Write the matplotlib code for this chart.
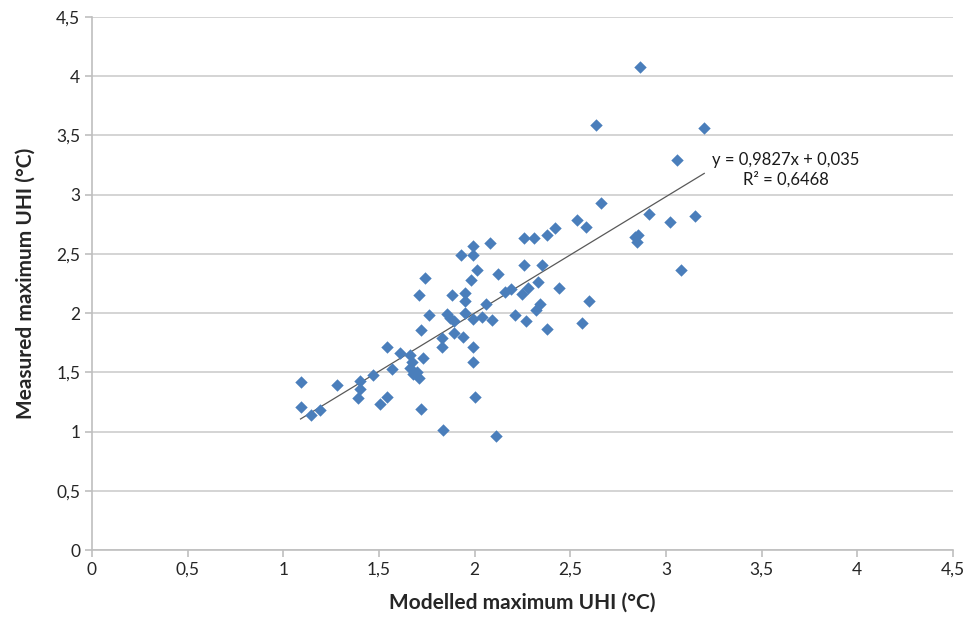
import matplotlib.pyplot as plt
from matplotlib.ticker import FuncFormatter, MultipleLocator
import numpy as np

# modelled vs measured maximum UHI (°C)
modelled = [1.09, 1.09, 1.145, 1.19, 1.28, 1.40, 1.40, 1.39, 1.47, 1.505,
            1.54, 1.54, 1.57, 1.61, 1.66, 1.67, 1.73, 1.66, 1.68, 1.70,
            1.71, 1.72, 1.72, 1.93, 1.99, 1.99, 2.08, 2.26, 2.26, 2.01,
            1.98, 2.12, 1.74, 1.71, 1.76, 1.88, 1.95, 1.95, 2.06, 1.855,
            1.87, 1.89, 1.95, 1.99, 2.04, 2.09, 2.16, 2.19, 2.25, 2.27,
            2.21, 1.83, 1.83, 1.89, 1.94, 1.99, 1.99, 2.00, 1.835, 2.11,
            2.31, 2.38, 2.42, 2.535, 2.58, 2.66, 2.35, 2.28, 2.33, 2.44,
            2.34, 2.32, 2.60, 2.38, 2.56, 2.865, 2.635, 3.20, 3.06, 2.91,
            3.02, 3.15, 2.84, 2.855, 2.85, 3.08]
measured = [1.42, 1.21, 1.14, 1.18, 1.39, 1.43, 1.36, 1.28, 1.48, 1.23,
            1.29, 1.71, 1.53, 1.66, 1.65, 1.59, 1.62, 1.54, 1.49, 1.50,
            1.45, 1.19, 1.86, 2.49, 2.57, 2.49, 2.59, 2.63, 2.41, 2.36,
            2.28, 2.33, 2.30, 2.15, 1.98, 2.15, 2.17, 2.10, 2.08, 1.99,
            1.96, 1.93, 2.00, 1.95, 1.97, 1.94, 2.18, 2.20, 2.16, 1.93,
            1.98, 1.79, 1.71, 1.83, 1.80, 1.71, 1.59, 1.29, 1.01, 0.96,
            2.63, 2.66, 2.72, 2.79, 2.73, 2.93, 2.41, 2.21, 2.26, 2.21,
            2.08, 2.03, 2.10, 1.87, 1.92, 4.08, 3.59, 3.56, 3.29, 2.84,
            2.77, 2.82, 2.64, 2.66, 2.60, 2.36]

# linear trend shown on the chart
slope = 0.9827
intercept = 0.035
r2 = 0.6468

plt.rcParams['font.family'] = ['Lato', 'DejaVu Sans']

fig = plt.figure(figsize=(9.68, 6.18), dpi=100)
ax = fig.add_axes([0.095, 0.110, 0.8895, 0.8625])

ax.scatter(modelled, measured, marker='D', s=40, color='#4a7ebb', zorder=3,
           linewidths=0)

xl = np.array([min(modelled), max(modelled)])
ax.plot(xl, slope * xl + intercept, color='#595959', lw=0.9, zorder=2)

ax.text(3.625, 3.21, 'y = 0,9827x + 0,035\nR² = 0,6468', ha='center', va='center',
        multialignment='center', fontsize=12, color='#1a1a1a', linespacing=1.3)

ax.set_xlim(0, 4.5)
ax.set_ylim(0, 4.5)
ax.xaxis.set_major_locator(MultipleLocator(0.5))
ax.yaxis.set_major_locator(MultipleLocator(0.5))
fmt = FuncFormatter(lambda v, p: ('%g' % v).replace('.', ','))
ax.xaxis.set_major_formatter(fmt)
ax.yaxis.set_major_formatter(fmt)

ax.grid(axis='y', color='#d4d4d4', lw=1.4)
ax.set_axisbelow(True)
for s in ['top', 'right']:
    ax.spines[s].set_visible(False)
for s in ['left', 'bottom']:
    ax.spines[s].set_color('#bfbfbf')
    ax.spines[s].set_linewidth(1.2)
ax.tick_params(colors='#bfbfbf', labelcolor='#262626', labelsize=12.5, length=5, width=1.2)

ax.set_xlabel('Modelled maximum UHI (°C)', fontsize=15, fontweight='bold', color='#262626', labelpad=11)
ax.set_ylabel('Measured maximum UHI (°C)', fontsize=15, fontweight='bold', color='#262626', labelpad=15)

plt.savefig('out.png', dpi=100)
